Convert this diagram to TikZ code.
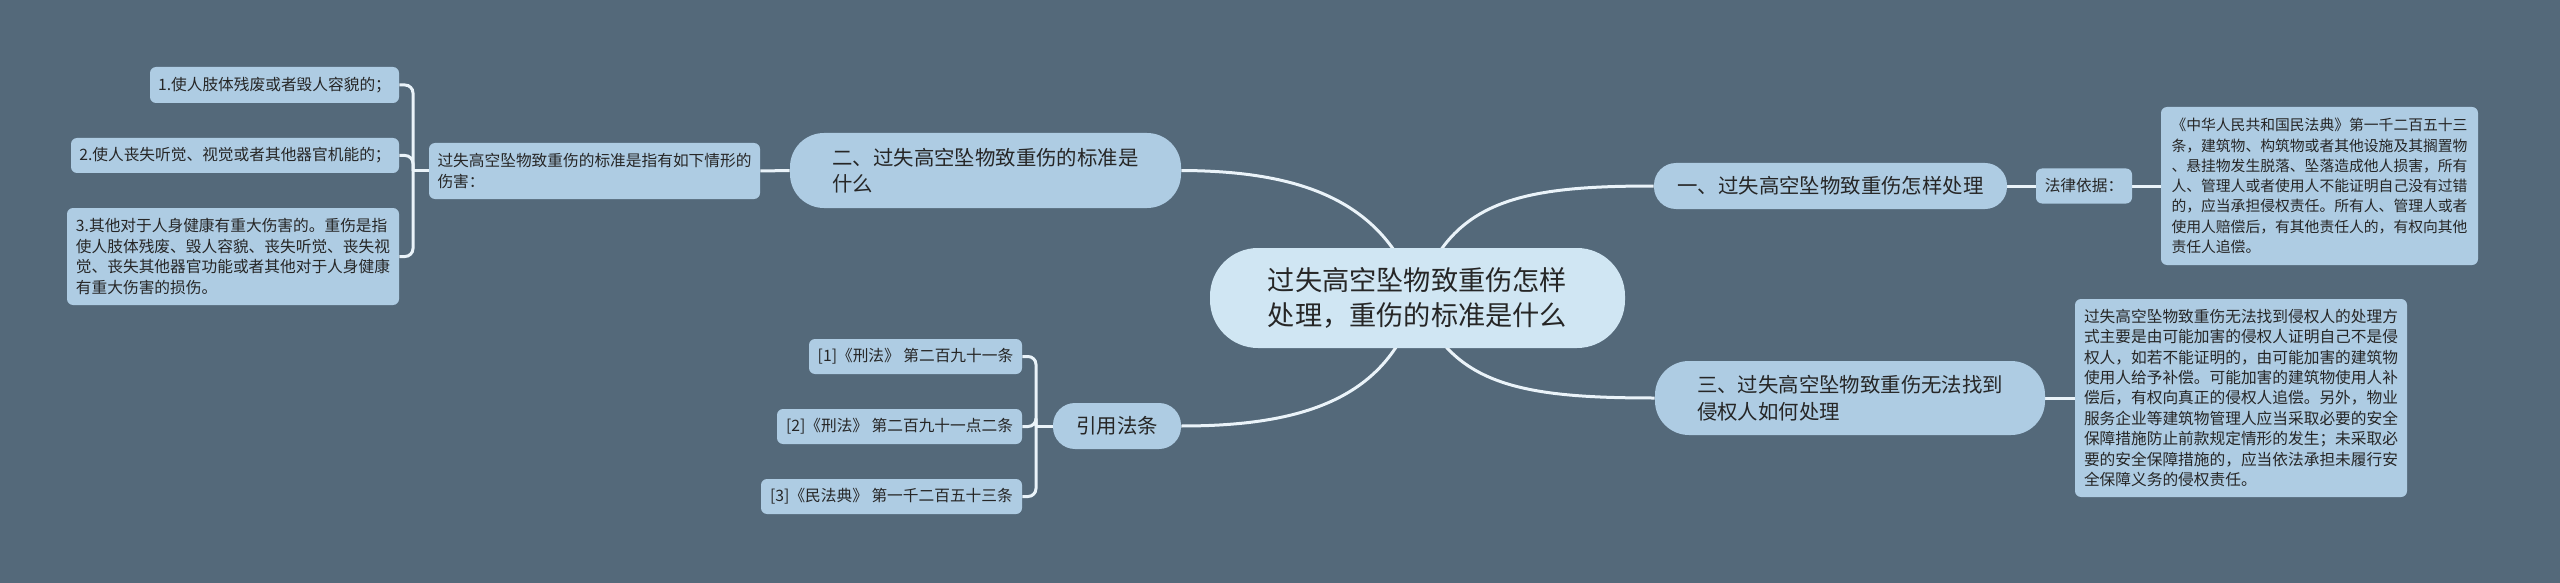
\documentclass[tikz,border=0pt]{standalone}
\usepackage{fontspec}
\setmainfont{Noto Sans CJK SC}
\usepackage{tikz}
\usetikzlibrary{calc,backgrounds}
\definecolor{bgslate}{RGB}{84,105,122}
\definecolor{leafblue}{RGB}{174,204,227}
\definecolor{rootblue}{RGB}{208,230,243}
\definecolor{inkgray}{RGB}{38,38,38}
\definecolor{wirewhite}{RGB}{234,243,249}
\tikzset{
	wire/.style={draw=wirewhite, line width=1.5pt},
	root/.style={fill=rootblue, text=inkgray, inner sep=0pt, rounded corners=24pt, minimum width=207.5pt, minimum height=50pt, align=center, font=\fontsize{13.6pt}{17.5pt}\selectfont},
	branch/.style={fill=leafblue, text=inkgray, inner sep=0pt, align=left, font=\fontsize{10.2pt}{13.3pt}\selectfont},
	leaf/.style={fill=leafblue, text=inkgray, inner sep=0pt, rounded corners=3pt, align=left, font=\fontsize{7.85pt}{10.2pt}\selectfont},
}

\begin{document}
\begin{tikzpicture}[x=0.5pt, y=-0.5pt]
		%%%%% START %%%%%
		\useasboundingbox (0, 0) rectangle (2560, 583);
		
		\node[root] (root) at (1417.5, 298) {过失高空坠物致重伤怎样\\处理，重伤的标准是什么};
		
		\node[branch, rounded corners=11pt, minimum width=176.5pt, minimum height=23pt] (b1) at (1830.5, 186) {一、过失高空坠物致重伤怎样处理};
		\node[branch, rounded corners=17pt, minimum width=195.5pt, minimum height=37.5pt] (b2) at (985.5, 170.5) {二、过失高空坠物致重伤的标准是\\什么};
		\node[branch, rounded corners=17pt, minimum width=195pt, minimum height=37pt] (b3) at (1850, 398) {三、过失高空坠物致重伤无法找到\\侵权人如何处理};
		\node[branch, rounded corners=11pt, minimum width=64pt, minimum height=23pt] (cite) at (1117, 426) {引用法条};
		
		\node[leaf, minimum width=48pt, minimum height=17.5pt] (lawlabel) at (2084, 186) {法律依据：};
		\node[leaf, minimum width=158.5pt, minimum height=79pt, font=\fontsize{7.4pt}{10.15pt}\selectfont] (lawtext) at (2319.5, 186) {《中华人民共和国民法典》第一千二百五十三\\条，建筑物、构筑物或者其他设施及其搁置物\\、悬挂物发生脱落、坠落造成他人损害，所有\\人、管理人或者使用人不能证明自己没有过错\\的，应当承担侵权责任。所有人、管理人或者\\使用人赔偿后，有其他责任人的，有权向其他\\责任人追偿。};
		\node[leaf, minimum width=166pt, minimum height=99pt] (b3text) at (2241, 398) {过失高空坠物致重伤无法找到侵权人的处理方\\式主要是由可能加害的侵权人证明自己不是侵\\权人，如若不能证明的，由可能加害的建筑物\\使用人给予补偿。可能加害的建筑物使用人补\\偿后，有权向真正的侵权人追偿。另外，物业\\服务企业等建筑物管理人应当采取必要的安全\\保障措施防止前款规定情形的发生；未采取必\\要的安全保障措施的，应当依法承担未履行安\\全保障义务的侵权责任。};
		
		\node[leaf, minimum width=165.5pt, minimum height=28pt] (mid) at (594.5, 171) {过失高空坠物致重伤的标准是指有如下情形的\\伤害：};
		\node[leaf, minimum width=124.5pt, minimum height=18pt] (box1) at (274.5, 85) {1.使人肢体残废或者毁人容貌的；};
		\node[leaf, minimum width=164pt, minimum height=17.5pt] (box2) at (235, 155.5) {2.使人丧失听觉、视觉或者其他器官机能的；};
		\node[leaf, minimum width=166pt, minimum height=48.5pt] (box3) at (233, 256.5) {3.其他对于人身健康有重大伤害的。重伤是指\\使人肢体残废、毁人容貌、丧失听觉、丧失视\\觉、丧失其他器官功能或者其他对于人身健康\\有重大伤害的损伤。};
		
		\node[leaf, minimum width=106.5pt, minimum height=17.5pt] (c1) at (915.5, 356.5) {[1]《刑法》 第二百九十一条};
		\node[leaf, minimum width=122.5pt, minimum height=17.5pt] (c2) at (899.5, 426.5) {[2]《刑法》 第二百九十一点二条};
		\node[leaf, minimum width=130.5pt, minimum height=17.5pt] (c3) at (891.5, 496.5) {[3]《民法典》 第一千二百五十三条};
		
		\coordinate (lj) at (413, 171);
		\coordinate (cj) at (1036, 426);
		
		\begin{scope}[on background layer]
		\fill[bgslate] (0, 0) rectangle (2560, 583);
		
		\draw[wire] (root.center) .. controls (1450, 200) and (1520, 186) .. (b1.west);
		\draw[wire] (root.center) .. controls (1385, 200) and (1300, 171) .. (b2.east);
		\draw[wire] (root.center) .. controls (1450, 385) and (1520, 398) .. (b3.west);
		\draw[wire] (root.center) .. controls (1390, 400) and (1300, 426) .. (cite.east);
		
		\draw[wire] (b1.east) -- (lawlabel.west);
		\draw[wire] (lawlabel.east) -- (lawtext.west);
		\draw[wire] (b3.east) -- (b3text.west);
		\draw[wire] (b2.west) -- (mid.east);
		
		\draw[wire] (mid.west) -- (lj);
		\draw[wire, rounded corners=4pt] (lj) |- (box1.east);
		\draw[wire, rounded corners=4pt] (lj) |- (box2.east);
		\draw[wire, rounded corners=4pt] (lj) |- (box3.east);
		
		\draw[wire] (cite.west) -- (cj);
		\draw[wire, rounded corners=4pt] (cj) |- (c1.east);
		\draw[wire, rounded corners=4pt] (cj) |- (c2.east);
		\draw[wire, rounded corners=4pt] (cj) |- (c3.east);
		\end{scope}
		%%%%% END %%%%%
\end{tikzpicture}
\end{document}
